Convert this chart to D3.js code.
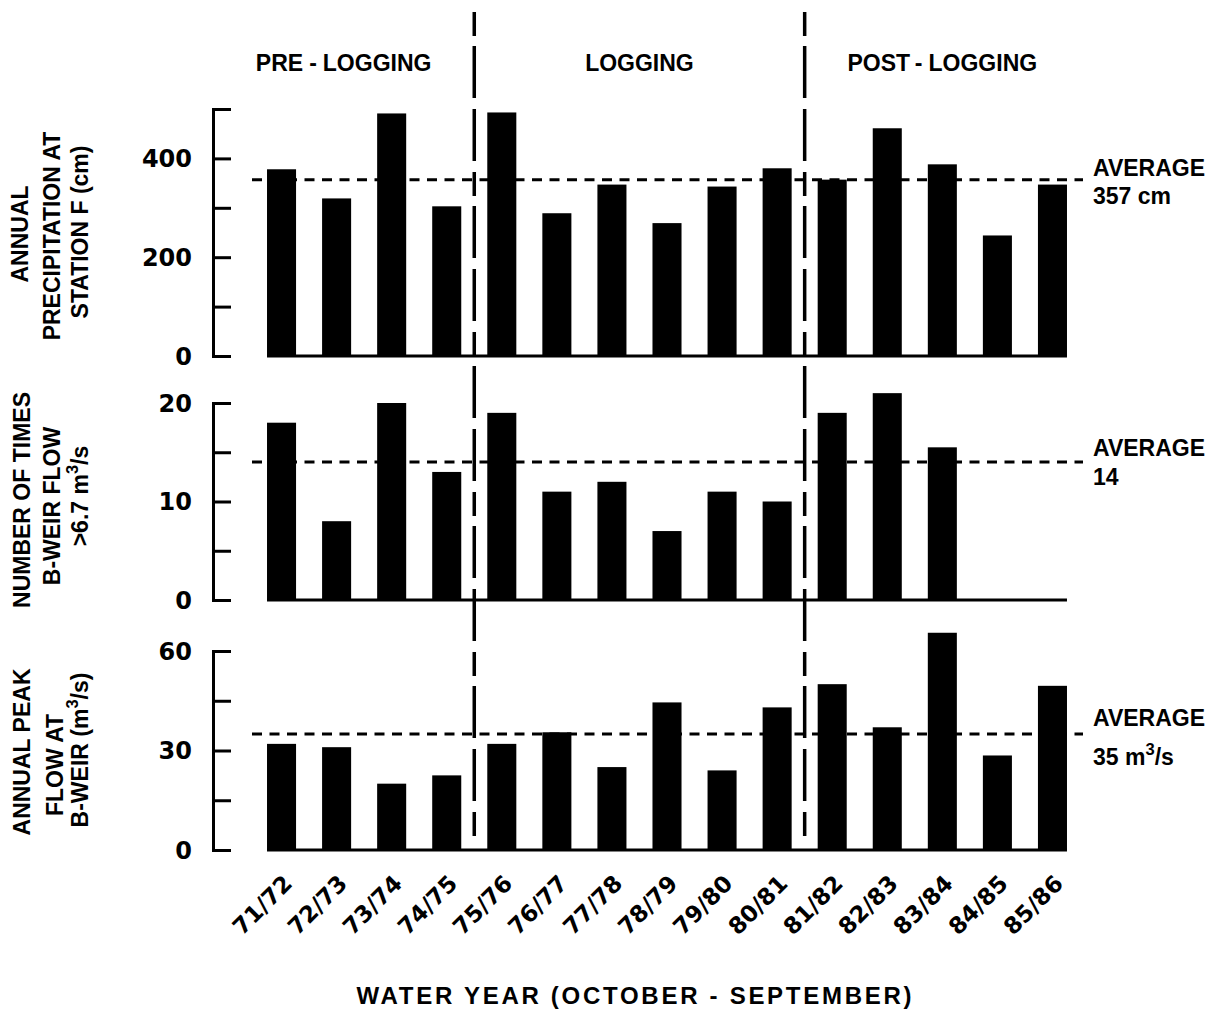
<!DOCTYPE html>
<html>
<head>
<meta charset="utf-8">
<script src="https://cdn.jsdelivr.net/npm/d3@7"></script>
<style>
  html, body { margin: 0; padding: 0; background: #fff; }
  svg { display: block; }
</style>
</head>
<body>
<svg id="chart" width="1215" height="1017"></svg>
<script>
// ---------------- DATA ----------------
const years = ["71/72","72/73","73/74","74/75","75/76","76/77","77/78","78/79","79/80","80/81","81/82","82/83","83/84","84/85","85/86"];
const precipitation = [378, 319, 491, 303, 493, 289, 347, 269, 343, 380, 357, 461, 388, 244, 347];   // cm
const exceedCount = [18, 8, 20, 13, 19, 11, 12, 7, 11, 10, 19, 21, 15.5, null, null];                  // times > 6.7 m3/s
const peakFlow = [32, 31, 20, 22.5, 32, 35.5, 25, 44.5, 24, 43, 50, 37, 65.5, 28.5, 49.5];           // m3/s
const averages = [357, 14, 35];
const periods = ["PRE-LOGGING", "LOGGING", "POST-LOGGING"];
const periodBreaks = ["75/76", "81/82"];   // first year of logging, first year of post-logging
const precipTicks = [0, 100, 200, 300, 400, 500];
const precipTickLabels = [0, 200, 400];
const countTicks = [0, 5, 10, 15, 20];
const countTickLabels = [0, 10, 20];
const flowTicks = [0, 15, 30, 45, 60];
const flowTickLabels = [0, 30, 60];
const xTitle = "WATER YEAR (OCTOBER - SEPTEMBER)";

// ---------------- LAYOUT ----------------
const svg = d3.select("#chart");
const axisX = 213;
const numFont = "'DejaVu Sans', sans-serif";
const txtFont = "'Liberation Sans', Arial, sans-serif";

const x = d3.scaleBand().domain(years).range([254, 1080]).paddingInner(0.4727).paddingOuter(0.2364);
const gap = x.step() - x.bandwidth();

const panels = [
  { values: precipitation, domain: [0, 500], range: [356, 109], ticks: precipTicks, labels: precipTickLabels,
    avg: averages[0], avgLines: [["AVERAGE"], ["357 cm"]], avgOff: [-4, 24],
    title: [[["ANNUAL"]], [["PRECIPITATION AT"]], [["STATION F (cm)"]]], titleX: [28, 60, 88], titleY: [234, 236, 232] },
  { values: exceedCount, domain: [0, 20], range: [600, 403], ticks: countTicks, labels: countTickLabels,
    avg: averages[1], avgLines: [["AVERAGE"], ["14"]], avgOff: [-6, 23],
    title: [[["NUMBER OF TIMES"]], [["B-WEIR FLOW"]], [[">6.7 m"], ["3", "sup"], ["/s"]]], titleX: [30, 60, 88], titleY: [500, 506, 496] },
  { values: peakFlow, domain: [0, 60], range: [850, 651], ticks: flowTicks, labels: flowTickLabels,
    avg: averages[2], avgLines: [["AVERAGE"], [["35 m"], ["3", "sup"], ["/s"]]], avgOff: [-8, 31],
    title: [[["ANNUAL PEAK"]], [["FLOW AT"]], [["B-WEIR (m"], ["3", "sup"], ["/s)"]]], titleX: [30, 63, 88], titleY: [752, 765, 750] }
];

function addRich(textSel, parts, size) {
  if (typeof parts[0] === "string") { textSel.text(parts[0]); return; }
  let shifted = false;
  parts.forEach(p => {
    const t = textSel.append("tspan").text(p[0]);
    if (p[1] === "sup") { t.attr("dy", -size * 0.42).attr("font-size", size * 0.72); shifted = true; }
    else if (shifted) { t.attr("dy", size * 0.42); shifted = false; }
  });
}

panels.forEach(p => {
  const y = d3.scaleLinear().domain(p.domain).range(p.range);
  const g = svg.append("g");

  // bars
  g.selectAll("rect.bar")
    .data(years.map((yr, i) => ({ yr, v: p.values[i] })).filter(d => d.v != null))
    .join("rect")
    .attr("x", d => x(d.yr))
    .attr("y", d => y(d.v))
    .attr("width", x.bandwidth())
    .attr("height", d => y(0) - y(d.v))
    .attr("fill", "#000");

  // baseline
  g.append("line")
    .attr("x1", x(years[0])).attr("x2", x(years[years.length - 1]) + x.bandwidth())
    .attr("y1", y(0)).attr("y2", y(0))
    .attr("stroke", "#000").attr("stroke-width", 3);

  // y axis: ticks pointing inward
  const axis = d3.axisRight(y).tickValues(p.ticks).tickSize(18).tickSizeOuter(0).tickFormat("");
  const ag = g.append("g").attr("transform", `translate(${axisX},0)`).call(axis);
  ag.selectAll("path, line").attr("stroke", "#000").attr("stroke-width", 3);
  ag.select("path.domain").attr("stroke-linecap", "square");

  // tick labels
  g.selectAll("text.tl").data(p.labels).join("text")
    .attr("x", axisX - 21).attr("y", d => y(d))
    .attr("dy", "0.36em")
    .attr("text-anchor", "end")
    .attr("font-family", numFont).attr("font-weight", "bold").attr("font-size", 24)
    .text(d => d);

  // average dashed line
  g.append("line")
    .attr("x1", 252).attr("x2", 1083)
    .attr("y1", y(p.avg)).attr("y2", y(p.avg))
    .attr("stroke", "#000").attr("stroke-width", 3).attr("stroke-dasharray", "10,7.5");

  // average labels
  p.avgLines.forEach((ln, k) => {
    const t = g.append("text")
      .attr("x", 1093).attr("y", y(p.avg) + p.avgOff[k])
      .attr("font-family", txtFont).attr("font-weight", "bold").attr("font-size", 23);
    addRich(t, ln, 23);
  });

  // y title (rotated)
  p.title.forEach((ln, k) => {
    const t = g.append("text")
      .attr("transform", `translate(${p.titleX[k]},${p.titleY[k]}) rotate(-90)`)
      .attr("text-anchor", "middle")
      .attr("font-family", txtFont).attr("font-weight", "bold").attr("font-size", 23);
    if (ln.length === 1) t.text(ln[0][0]); else addRich(t, ln, 23);
  });
});

// period dividers
const dividers = periodBreaks.map(yr => x(yr) - gap / 2);
svg.selectAll("line.div").data(dividers).join("line")
  .attr("x1", d => d).attr("x2", d => d)
  .attr("y1", 12).attr("y2", 843)
  .attr("stroke", "#000").attr("stroke-width", 3.5)
  .attr("stroke-dasharray", "24,10,52,11,52,11");

// period headers
const bounds = [axisX, ...dividers, x.range()[1]];
periods.forEach((name, i) => {
  const cx = (bounds[i] + bounds[i + 1]) / 2;
  const t = svg.append("text")
    .attr("x", cx).attr("y", 71)
    .attr("text-anchor", "middle")
    .attr("font-family", txtFont).attr("font-weight", "bold").attr("font-size", 23);
  const parts = name.split("-");
  if (parts.length === 1) t.text(name);
  else {
    t.append("tspan").text(parts[0]);
    t.append("tspan").attr("dx", 6).text("-");
    t.append("tspan").attr("dx", 6).text(parts[1]);
  }
});

// x tick labels (rotated)
svg.selectAll("text.xl").data(years).join("text")
  .attr("transform", d => `translate(${x(d) + x.bandwidth() / 2 + 12},885) rotate(-45)`)
  .attr("text-anchor", "end")
  .attr("font-family", numFont).attr("font-weight", "bold").attr("font-size", 23)
  .text(d => d);

// x title
svg.append("text")
  .attr("x", 634).attr("y", 1004)
  .attr("text-anchor", "middle")
  .attr("font-family", txtFont).attr("font-weight", "bold").attr("font-size", 24)
  .attr("textLength", 555).attr("lengthAdjust", "spacing")
  .text(xTitle);
</script>
</body>
</html>
